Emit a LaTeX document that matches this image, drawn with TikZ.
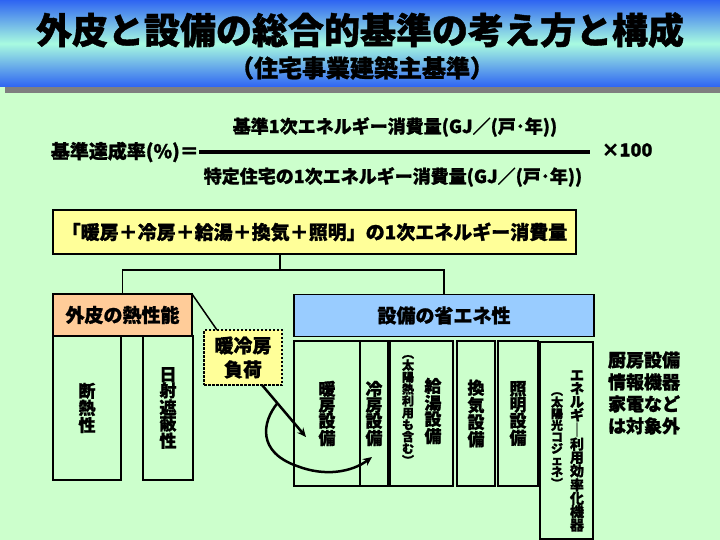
\documentclass[tikz,border=0pt]{standalone}
\usepackage{fontspec}
\setmainfont{Noto Sans CJK JP}[BoldFeatures={FakeBold=1.2}]
\usepackage{tikz}
\usetikzlibrary{arrows.meta,positioning,calc}
\definecolor{cBack}{HTML}{CCFFCC}
\definecolor{cBand}{HTML}{2E64F2}
\definecolor{cGlow}{HTML}{A8FBE0}
\definecolor{cShade}{HTML}{7F7F7F}
\definecolor{cSum}{HTML}{FFFF99}
\definecolor{cSkin}{HTML}{FFCC99}
\definecolor{cEquip}{HTML}{99CCFF}
\newcommand{\jfont}[2]{\fontsize{#1}{#2}\selectfont\bfseries}
\tikzset{
  ebox/.style={draw=black,line width=1.5pt,inner sep=0pt,outer sep=0pt,align=center},
  headbox/.style={ebox,fill=#1,minimum height=42pt,font=\jfont{19}{22}},
  colbox/.style={ebox,anchor=north west,minimum width=#1,minimum height=145pt,font=\jfont{17}{16}},
  txt/.style={inner sep=0pt,font=\jfont{18}{22}},
  vtxt/.style={align=center,inner sep=0pt,font=\jfont{17}{16}},
  vmid/.style={align=center,inner sep=0pt,font=\jfont{14}{13.3}},
  vsmall/.style={align=center,inner sep=0pt,font=\jfont{12}{#1}},
  vsmall/.default=11.9,
  ln/.style={line width=1.5pt},
  arr/.style={-{Stealth[length=9pt,width=8pt]},line width=2.5pt},
}

\begin{document}
\begin{tikzpicture}[x=1pt,y=-1pt]
  \useasboundingbox (0,0) rectangle (720,540);
  \fill[cBack] (0,0) rectangle (720,540);
  % title band
  \fill[cShade] (5,87) rectangle (720,93);
  \shade[top color=cBand,bottom color=cBand,middle color=cGlow] (0,0) rectangle (720,87);
  \node[txt,font=\jfont{36}{40}] (title) at (360,30) {外皮と設備の総合的基準の考え方と構成};
  \node[txt,font=\jfont{24}{28}] (subtitle) at (362,68) {（住宅事業建築主基準）};
  % formula
  \node[txt,anchor=east,font=\jfont{19}{22}] (rate) at (199,152) {基準達成率(\%)＝};
  \coordinate (barR) at (590,152);
  \draw[line width=3.5pt] (rate.east) -- (barR);
  \node[txt] (num) at (395,127) {基準1次エネルギー消費量(GJ／(戸･年))};
  \node[txt] (den) at (393,177) {特定住宅の1次エネルギー消費量(GJ／(戸･年))};
  \node[txt] (times) at (627,150) {×100};
  % total consumption and the two branches
  \node[ebox,fill=cSum,minimum width=523pt,minimum height=44pt,font=\jfont{19}{22}] (total) at (314.5,232) {「暖房＋冷房＋給湯＋換気＋照明」の1次エネルギー消費量};
  \node[headbox=cSkin,minimum width=139pt] (skin) at (122.5,315) {外皮の熱性能};
  \node[headbox=cEquip,minimum width=300pt] (equip) at (444,315.5) {設備の省エネ性};
  \coordinate (split) at (280,270);
  \draw[ln] (total.south -| split) -- (split);
  \draw[ln] (skin.north) |- (split) -| (equip.north);
  % envelope items
  \node[colbox=68pt,minimum height=144pt] (insul) at (53,336) {断\\熱\\性};
  \node[colbox=50pt,minimum height=144pt] (solar) at (143,336) {日\\射\\遮\\蔽\\性};
  % equipment items
  \node[colbox=66pt] (heat) at (294,341) {暖\\房\\設\\備};
  \node[colbox=28pt,right=0pt of heat] (cool) {冷\\房\\設\\備};
  \node[colbox=63pt,right=2pt of cool] (hw) {};
  \node[colbox=38pt,right=4pt of hw] (vent) {換\\気\\設\\備};
  \node[colbox=40pt,right=3pt of vent] (light) {照\\明\\設\\備};
  \node[colbox=53pt,minimum height=197pt] (eff) at (540,342) {};
  \node[vtxt] (hwA) at (433,411) {給\\湯\\設\\備};
  \node[vsmall] (hwB) at (408,410) {︵\\太\\陽\\熱\\利\\用\\も\\含\\む\\︶};
  \node[vmid] (effA) at (577,451) {エ\\ネ\\ル\\ギ\\｜\\利\\用\\効\\率\\化\\機\\器};
  \node[vsmall=11.6] (effB) at (557,440) {︵\\太\\陽\\光\\コ\\ジ\\ェ\\ネ\\︶};
  % heating/cooling load
  \node[ebox,fill=cSum,dash pattern=on 2.5pt off 1.5pt,minimum width=78pt,minimum height=55pt,font=\jfont{19}{24}] (load) at (243,357.5) {暖冷房\\負荷};
  \draw[ln] (skin.north east) -- ($(load.north west)+(13,0)$);
  \coordinate (aS) at ($(load.south)+(19,0)$);
  \coordinate (aE) at (306,437);
  \coordinate (cE) at (372,457);
  \draw[arr] (aS) -- (aE);
  \draw[arr] ($(aS)!0.35!(aE)$) .. controls (262,422) and (257,452) .. (297,466) .. controls (325,477) and (352,472) .. (cE);
  % out of scope
  \node[txt,align=left] (note) at (644,393) {厨房設備\\情報機器\\家電など\\は対象外};
\end{tikzpicture}
\end{document}
